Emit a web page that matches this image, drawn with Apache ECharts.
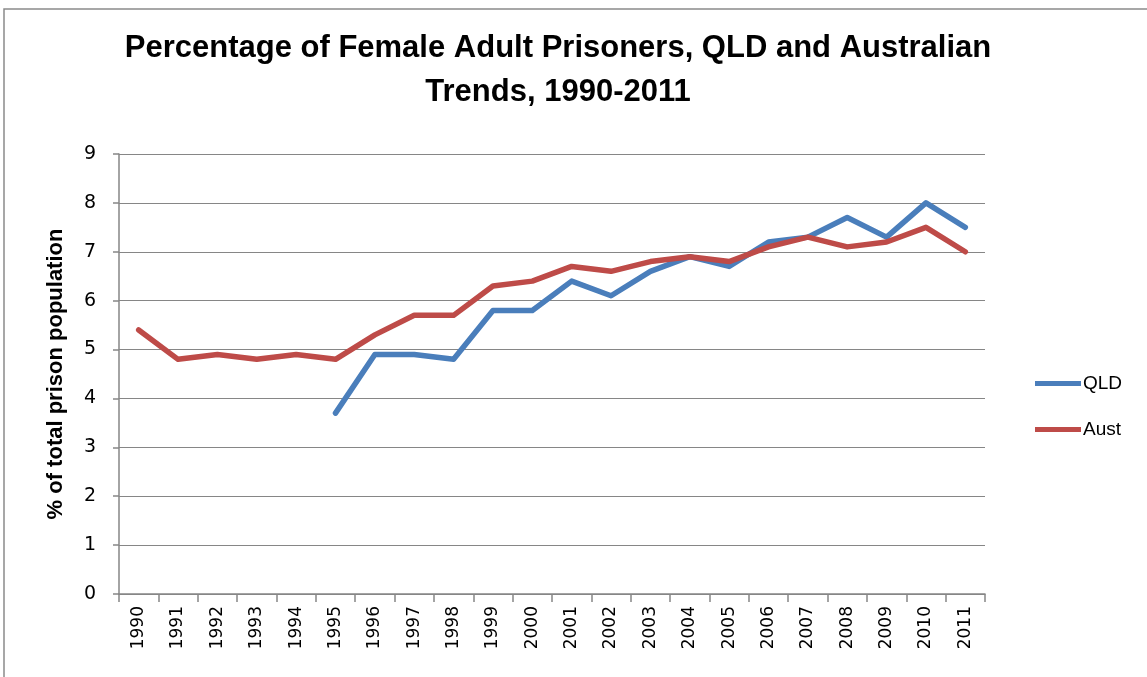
<!DOCTYPE html>
<html><head><meta charset="utf-8">
<script src="https://cdn.jsdelivr.net/npm/echarts@6/dist/echarts.min.js"></script>
<style>html,body{margin:0;padding:0;background:#fff}#c{width:1147px;height:677px}</style>
</head><body><div id="c"></div>
<script>
const years = ['1990','1991','1992','1993','1994','1995','1996','1997','1998','1999','2000','2001','2002','2003','2004','2005','2006','2007','2008','2009','2010','2011'];
const qld = [null,null,null,null,null,3.7,4.9,4.9,4.8,5.8,5.8,6.4,6.1,6.6,6.9,6.7,7.2,7.3,7.7,7.3,8.0,7.5];
const aust = [5.4,4.8,4.9,4.8,4.9,4.8,5.3,5.7,5.7,6.3,6.4,6.7,6.6,6.8,6.9,6.8,7.1,7.3,7.1,7.2,7.5,7.0];
const titleText = 'Percentage of Female Adult Prisoners, QLD and Australian\nTrends, 1990-2011';
const yName = '% of total prison population';

const chart = echarts.init(document.getElementById('c'), null, {renderer:'canvas'});
const gray = '#868686';
chart.setOption({
  animation:false,
  graphic:[{type:'rect',shape:{x:4,y:9,width:1160,height:700},style:{fill:null,stroke:'#8a8a8a',lineWidth:1.5},silent:true}],
  title:{text:titleText,left:553,top:21,textAlign:'center',
    textStyle:{fontFamily:'Liberation Sans',fontWeight:'bold',fontSize:31,lineHeight:44,color:'#000'}},
  legend:{orient:'vertical',left:1030,top:369,itemGap:27,itemWidth:46,itemHeight:5,icon:'rect',
    textStyle:{fontFamily:'Liberation Sans',fontSize:19,color:'#000',padding:[0,0,0,-3]},
    data:['QLD','Aust']},
  grid:{left:119,right:162,top:154,bottom:83,containLabel:false},
  xAxis:{type:'category',data:years,boundaryGap:true,
    axisLine:{lineStyle:{color:gray,width:1.5}},
    axisTick:{show:true,length:8,lineStyle:{color:gray,width:1.5},interval:0},
    axisLabel:{rotate:90,interval:0,fontFamily:'DejaVu Sans',fontSize:17,color:'#000',margin:12}},
  yAxis:{type:'value',min:0,max:9,interval:1,
    name:yName,nameLocation:'middle',nameGap:52,nameRotate:90,
    nameTextStyle:{fontFamily:'Liberation Sans',fontWeight:'bold',fontSize:22,color:'#000'},
    axisLine:{show:true,lineStyle:{color:gray,width:1.5}},
    axisTick:{show:true,length:6,lineStyle:{color:gray,width:1.5}},
    splitLine:{lineStyle:{color:gray,width:1.2}},
    axisLabel:{fontFamily:'DejaVu Sans',fontSize:19,color:'#000',margin:23}},
  series:[
    {name:'QLD',type:'line',data:qld,showSymbol:false,symbol:'none',connectNulls:false,
     lineStyle:{color:'#4A7EBB',width:5.5,cap:'round',join:'round'},itemStyle:{color:'#4A7EBB'}},
    {name:'Aust',type:'line',data:aust,showSymbol:false,symbol:'none',
     lineStyle:{color:'#BE4B48',width:5.5,cap:'round',join:'round'},itemStyle:{color:'#BE4B48'}}
  ]
});
</script></body></html>
